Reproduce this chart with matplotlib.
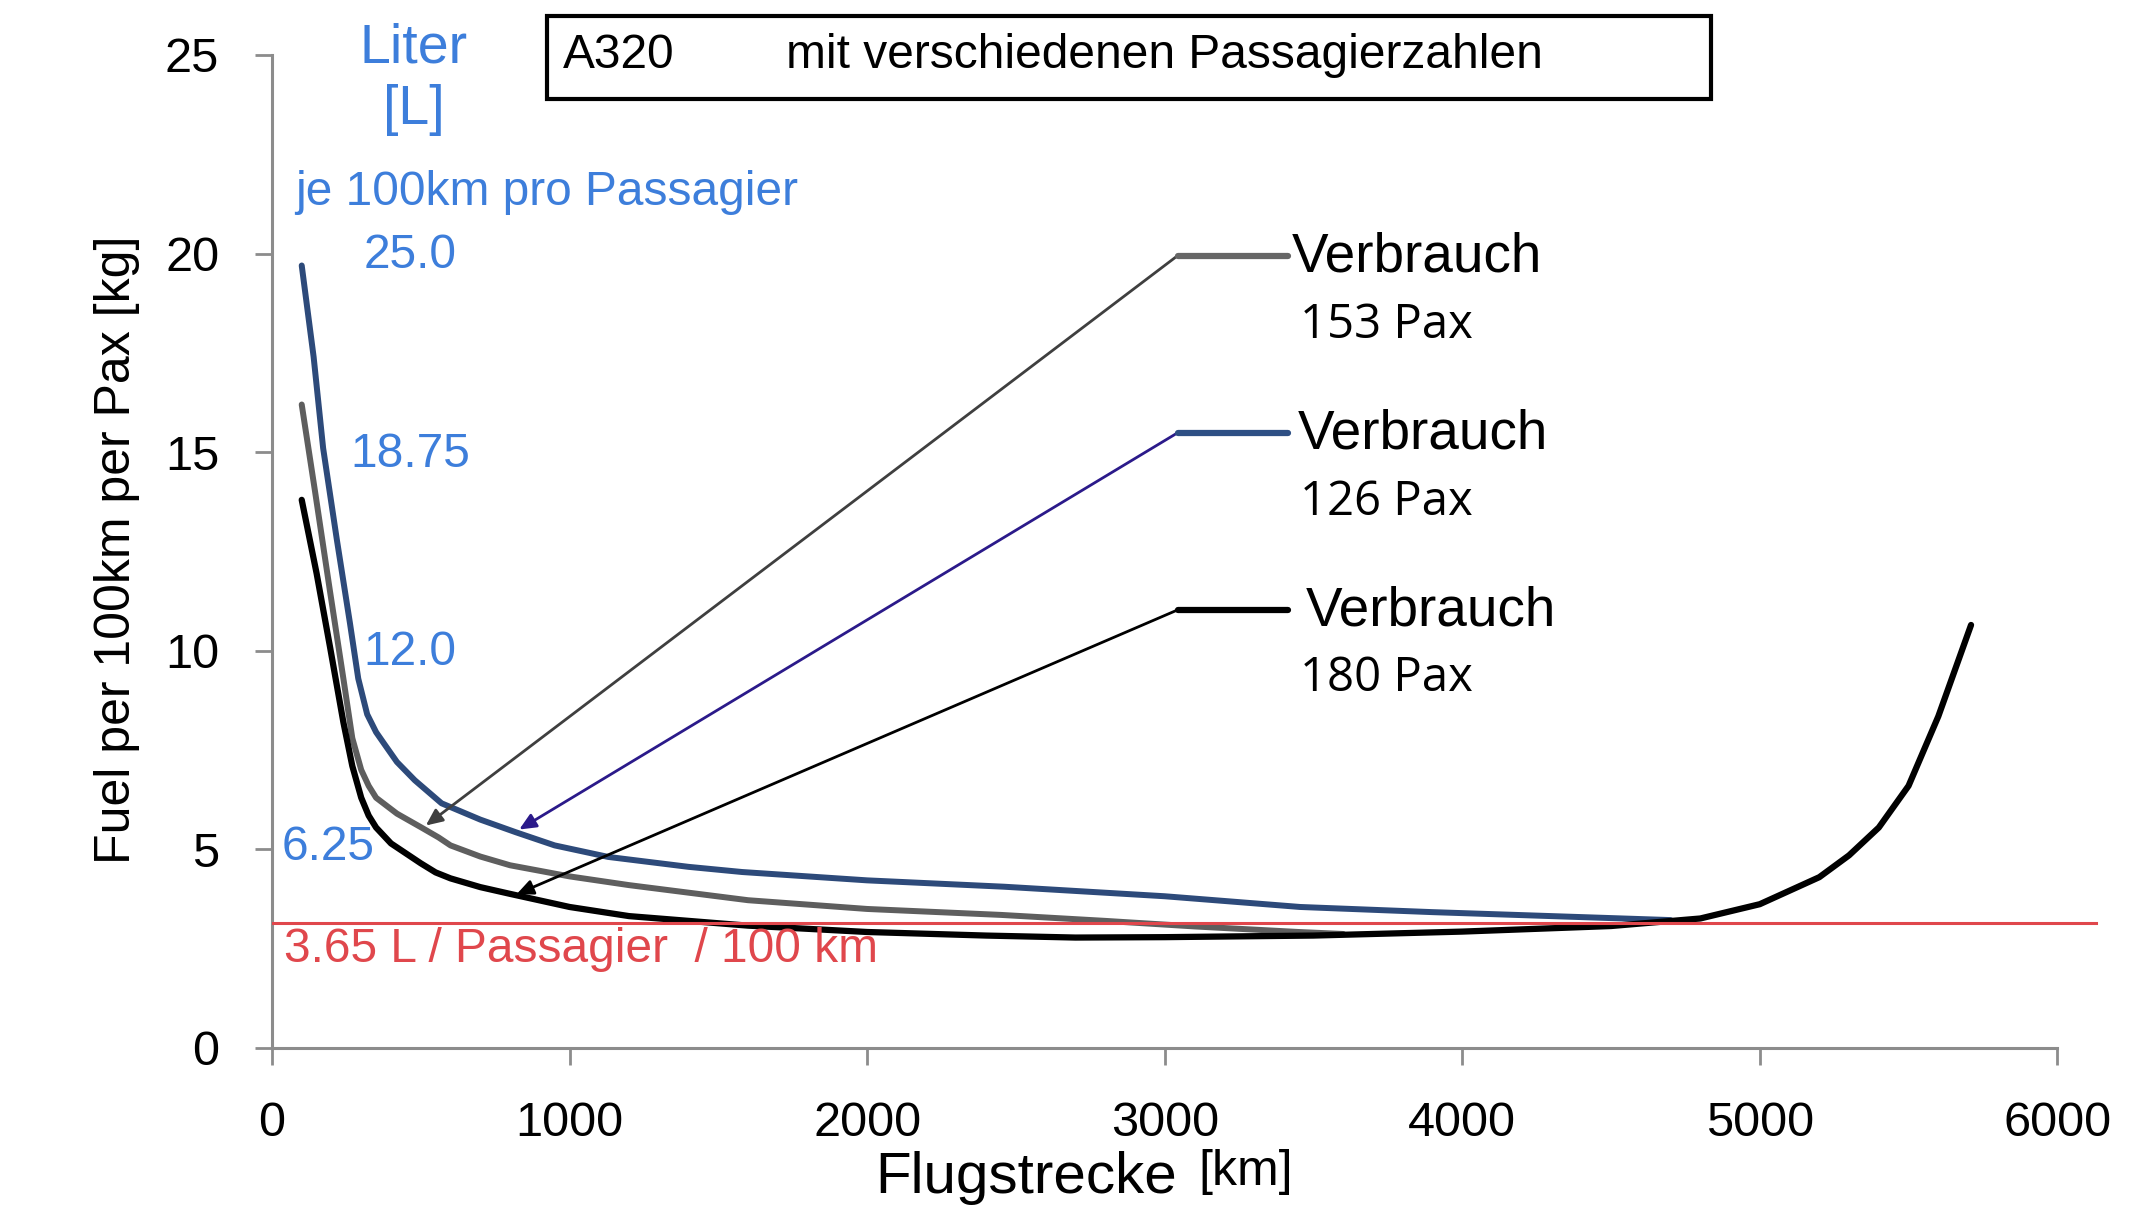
import matplotlib
matplotlib.use("Agg")
import matplotlib.pyplot as plt
from matplotlib.patches import Rectangle

plt.rcParams['font.family'] = ['Liberation Sans', 'DejaVu Sans']

# distance [km] and fuel per 100 km per passenger [kg]
km_180 = [100, 150, 195, 240, 270, 300, 325, 350, 400, 450, 500, 550, 600, 700, 800,
          1000, 1200, 1600, 2000, 2400, 2700, 3000, 3500, 4000, 4500, 4800, 5000,
          5200, 5300, 5400, 5500, 5600, 5710]
fuel_180 = [13.8, 11.95, 10.1, 8.2, 7.1, 6.3, 5.85, 5.55, 5.15, 4.9, 4.65, 4.42, 4.27,
            4.05, 3.88, 3.55, 3.32, 3.08, 2.92, 2.83, 2.78, 2.79, 2.83, 2.93, 3.07, 3.26,
            3.62, 4.3, 4.85, 5.55, 6.6, 8.35, 10.65]

km_153 = [100, 145, 195, 240, 270, 300, 325, 350, 420, 500, 560, 600, 700, 800, 1000,
          1200, 1600, 2000, 2450, 2800, 3100, 3450, 3600]
fuel_153 = [16.2, 14.0, 11.5, 9.3, 7.8, 7.0, 6.6, 6.3, 5.9, 5.56, 5.3, 5.1, 4.82, 4.6,
            4.32, 4.1, 3.72, 3.5, 3.35, 3.2, 3.06, 2.92, 2.87]

km_126 = [100, 140, 172, 218, 262, 290, 320, 350, 376, 420, 480, 570, 700, 820, 950,
          1130, 1400, 1580, 2000, 2460, 3000, 3455, 3900, 4300, 4700]
fuel_126 = [19.7, 17.4, 15.1, 12.8, 10.7, 9.3, 8.4, 7.95, 7.67, 7.2, 6.74, 6.16, 5.75,
            5.43, 5.1, 4.81, 4.56, 4.43, 4.22, 4.06, 3.82, 3.55, 3.42, 3.32, 3.22]

ref_level = 3.15
liter_labels = ["25.0", "18.75", "12.0", "6.25"]
liter_levels = [20, 15, 10, 5]
x_ticks = [0, 1000, 2000, 3000, 4000, 5000, 6000]
y_ticks = [0, 5, 10, 15, 20, 25]

BLUE_TXT = '#3D7EDB'
RED = '#E0474C'
AXIS_GREY = '#8C8C8C'

fig = plt.figure(figsize=(21.55, 12.19), dpi=100)
ax = fig.add_axes([0.1262, 0.1403, 0.8492, 0.8146])

ax.plot(km_126, fuel_126, color='#2D4A7A', lw=4.3, solid_capstyle='round',
        solid_joinstyle='round', zorder=3)
ax.plot(km_153, fuel_153, color='#5E5E5E', lw=4.3, solid_capstyle='round',
        solid_joinstyle='round', zorder=3)
ax.plot(km_180, fuel_180, color='black', lw=4.5, solid_capstyle='round',
        solid_joinstyle='round', zorder=4)
ax.axhline(ref_level, xmin=0, xmax=6130 / 6150, color=RED, lw=2.2, zorder=5)

ax.set_xlim(0, 6150)
ax.set_ylim(0, 25)
ax.set_xticks(x_ticks)
ax.set_yticks(y_ticks)
for s in ['top', 'right']:
    ax.spines[s].set_visible(False)
for s in ['left', 'bottom']:
    ax.spines[s].set_color(AXIS_GREY)
    ax.spines[s].set_linewidth(2.2)
ax.spines['bottom'].set_bounds(0, 6000)
ax.tick_params(direction='out', length=12, width=2, color=AXIS_GREY,
               labelsize=35, pad=26)

# blue litre scale notes
ax.text(476, 25.17, "Liter", color=BLUE_TXT, fontsize=40, ha='center', va='center')
ax.text(476, 23.62, "[L]", color=BLUE_TXT, fontsize=40, ha='center', va='center')
ax.text(79, 21.54, "je 100km pro Passagier", color=BLUE_TXT, fontsize=34.5,
        ha='left', va='center')
for lab, lev in zip(liter_labels, liter_levels):
    if lab == "6.25":
        ax.text(32, lev + 0.05, lab, color=BLUE_TXT, fontsize=34.5, ha='left', va='center')
    else:
        ax.text(464, lev - 0.05, lab, color=BLUE_TXT, fontsize=34.5, ha='center',
                va='center')

ax.text(42, 2.49, "3.65 L / Passagier  / 100 km", color=RED, fontsize=34.5,
        ha='left', va='center', zorder=6)

# callouts: arrow tip, elbow level, diagonal colour, bar colour, pax label, text x, pax y
callouts = [
    ((517, 5.60), 19.95, '#3F3F3F', '#666666', "153 Pax", 3427, 18.2),
    ((831, 5.50), 15.49, '#2B1A8A', '#2E4F84', "126 Pax", 3446, 13.73),
    ((822, 3.87), 11.03, 'black', 'black', "180 Pax", 3473, 9.3),
]
for tip, ey, dcol, bcol, pax, tx, py in callouts:
    ax.annotate("", xy=tip, xytext=(3044, ey),
                arrowprops=dict(arrowstyle='-|>,head_length=1.0,head_width=0.45',
                                color=dcol, lw=2.0, shrinkA=0, shrinkB=0),
                zorder=6)
    ax.plot([3044, 3413], [ey, ey], color=bcol, lw=4.5, solid_capstyle='round',
            clip_on=False, zorder=6)
    ax.text(tx, ey - 0.05, "Verbrauch", fontsize=39.5, ha='left', va='center')
    ax.text(3455, py, pax, fontsize=34, family=['Open Sans', 'DejaVu Sans'],
            ha='left', va='center')

# title box
fig.patches.append(Rectangle((0.2538, 0.9188), 0.540, 0.0677, transform=fig.transFigure,
                             fill=False, edgecolor='black', lw=3, zorder=10))
fig.text(0.2613, 0.9545, "A320", fontsize=34.5, ha='left', va='center')
fig.text(0.3647, 0.9545, "mit verschiedenen Passagierzahlen", fontsize=34.5,
         ha='left', va='center')

# axis labels
fig.text(0.0543, 0.549, "Fuel per 100km per Pax [kg]", fontsize=36, rotation=90,
         ha='center', va='center')
fig.text(0.406, 0.0336, "Flugstrecke", fontsize=42, ha='left', va='center')
fig.text(0.556, 0.0385, "[km]", fontsize=36, ha='left', va='center')

fig.savefig("out.png", dpi=100)
